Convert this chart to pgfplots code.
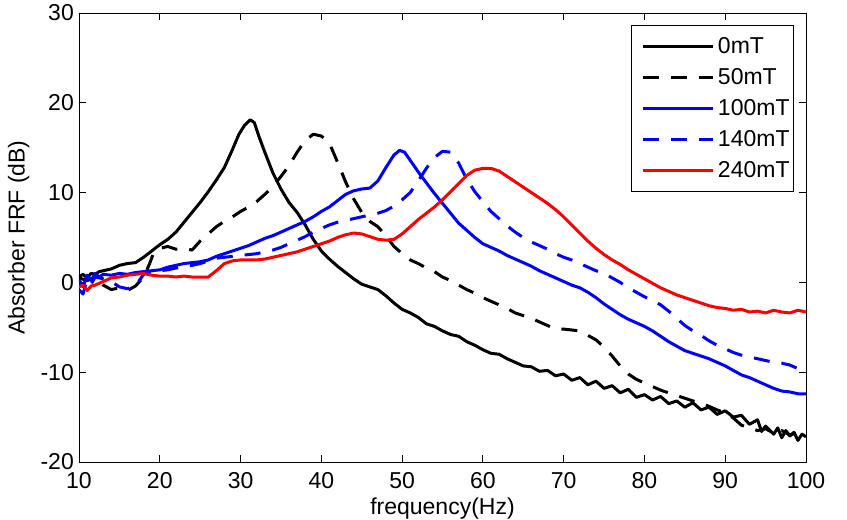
\documentclass[border=0pt]{standalone}
\usepackage{fontspec}
\setmainfont{Liberation Sans}
\usepackage{pgfplots}
\pgfplotsset{compat=1.18}
\definecolor{mblue}{RGB}{0,0,255}
\definecolor{mred}{RGB}{255,0,0}
\begin{document}
\begin{tikzpicture}[font=\fontsize{23bp}{27bp}\selectfont]
\begin{axis}[name=ax, scale only axis, width=727bp, height=449bp,
  xmin=10, xmax=100, ymin=-20, ymax=30,
  xtick={10,20,...,100}, ytick={-20,-10,...,30},
  tick align=inside, xtick pos=both, ytick pos=both,
  xticklabel pos=lower, yticklabel pos=left,
  major tick length=7bp,
  axis line style={line width=0.9bp},
  tick style={line width=0.9bp, black},
  /pgf/number format/assume math mode=true,
  tick label style={font=\fontsize{23bp}{27bp}\selectfont},
  xticklabel style={anchor=base, yshift=-26bp},
  yticklabel style={anchor=east, inner sep=5bp},
  xlabel={frequency(Hz)}, ylabel={Absorber FRF (dB)},
  label style={font=\fontsize{23bp}{27bp}\selectfont},
  xlabel style={at={(axis description cs:0.5,-0.118)}, anchor=base},
  ylabel style={at={(axis description cs:-0.083,0.5)}, anchor=center, rotate=0},
  legend style={at={(rel axis cs:0.9835,0.9733)}, anchor=north east, draw=black, line width=0.9bp, fill=white,
    inner xsep=1bp, inner ysep=9bp, font=\fontsize{23bp}{27bp}\selectfont, row sep=7.5bp,
    nodes={inner sep=3bp}},
  legend cell align=left,
  legend image code/.code={\path (-10bp,0bp); \draw[#1] (0bp,0bp) -- (70bp,0bp);},
]
\addplot[black, line width=3bp, line join=round] coordinates {
(10,0.6)(10.5,0.9)(11,0.5)(11.5,1.0)(12,0.9)(12.5,1.2)(13,1.3)(14,1.5)(15,1.9)(16,2.1)(17,2.2)(18,2.8)(19,3.5)(20,4.2)(21,4.8)(22,5.6)(23,6.7)(24,7.8)(25,8.9)(26,10.1)(27,11.4)(28,12.8)(29,14.8)(29.8,16.5)(30.5,17.5)(31.2,18.1)(31.7,17.8)(32.3,16.2)(33,14.5)(34,12.2)(35,10.4)(36,8.9)(37,7.8)(38,6.4)(39,4.8)(40,3.5)(41,2.6)(42,1.8)(43,1.1)(44,0.4)(45,-0.2)(46,-0.5)(47,-0.8)(48,-1.5)(49,-2.3)(50,-3.0)(51,-3.4)(52,-3.9)(53,-4.6)(54,-4.9)(55,-5.4)(56,-5.8)(57,-6.0)(58,-6.6)(59,-7.0)(60,-7.5)(61,-7.9)(62,-8.0)(63,-8.5)(64,-8.9)(65,-9.3)(66,-9.4)(67,-9.9)(68,-9.8)(69,-10.4)(70,-10.2)(71,-10.9)(72,-10.6)(73,-11.4)(74,-11.0)(75,-11.8)(76,-11.5)(77,-12.3)(78,-11.9)(79,-12.8)(80,-12.5)(81,-13.1)(82,-12.7)(83,-13.5)(84,-13.2)(85,-13.9)(86,-13.4)(87,-14.2)(88,-13.9)(89,-14.7)(90,-14.3)(91,-15.0)(92,-14.8)(93,-15.8)(94,-15.3)(94.5,-16.6)(95,-16.0)(96,-16.9)(96.5,-16.2)(97,-17.3)(97.5,-16.5)(98,-17.1)(98.5,-16.7)(99,-17.6)(99.5,-16.9)(100,-17.2)};
\addlegendentry{0mT}
\addplot[black, line width=3bp, line join=round, dash pattern=on 16bp off 12bp] coordinates {
(10,0.5)(11,0.2)(12,0.6)(13,-0.3)(14,-0.8)(15,-0.6)(16,-0.9)(17,-0.4)(18,0.6)(18.7,2.0)(19.2,3.2)(20,3.8)(21,4.0)(22,3.7)(23,3.8)(24,3.6)(25,4.6)(26,5.4)(27,6.2)(28,6.8)(29,7.3)(30,7.9)(31,8.4)(32,9.0)(33,9.8)(34,10.7)(35,11.8)(36,13.0)(37,14.5)(38,15.8)(39,16.5)(40,16.3)(41,15.5)(42,13.4)(43,11.2)(44,9.3)(45,7.8)(46,6.8)(47,6.2)(48,5.2)(49,4.0)(50,3.2)(51,2.5)(52,2.1)(53,1.6)(54,1.2)(55,0.6)(56,0.2)(57,-0.3)(58,-0.8)(59,-1.2)(60,-1.7)(61,-2.1)(62,-2.5)(63,-2.9)(64,-3.4)(65,-3.7)(66,-4.0)(67,-4.4)(68,-4.8)(69,-5.2)(70,-5.2)(71,-5.3)(72,-5.4)(73,-5.9)(74,-6.4)(75,-7.2)(76,-8.2)(77,-9.3)(78,-10.2)(79,-10.8)(80,-11.2)(81,-11.6)(82,-12.0)(83,-12.3)(84,-12.6)(85,-12.9)(86,-13.2)(87,-13.5)(88,-13.8)(89,-14.2)(90,-14.5)(91,-15.1)(92,-15.9)(93,-16.2)(94,-16.5)(95,-16.3)(96,-16.8)(97,-16.5)(98,-17.0)(99,-16.7)(100,-17.0)};
\addlegendentry{50mT}
\addplot[mblue, line width=3bp, line join=round] coordinates {
(10,0.3)(10.5,-0.5)(11,0.8)(11.5,0.2)(12,1.0)(12.5,0.6)(13,0.9)(14,0.8)(15,1.0)(16,0.9)(17,1.1)(18,1.2)(19,1.3)(20,1.4)(21,1.7)(22,1.9)(23,2.1)(24,2.2)(25,2.3)(26,2.5)(27,2.9)(28,3.2)(29,3.5)(30,3.8)(31,4.1)(32,4.5)(33,4.9)(34,5.2)(35,5.6)(36,6.0)(37,6.4)(38,6.8)(39,7.3)(40,7.9)(41,8.4)(42,9.1)(43,9.8)(44,10.2)(45,10.4)(46,10.5)(47,11.3)(48,12.8)(49,14.2)(49.7,14.7)(50.3,14.5)(51,13.6)(52,12.3)(53,11.1)(54,9.9)(55,8.8)(56,7.7)(57,6.6)(58,5.8)(59,5.0)(60,4.3)(61,3.9)(62,3.5)(63,3.0)(64,2.6)(65,2.2)(66,1.8)(67,1.3)(68,0.9)(69,0.5)(70,0.1)(71,-0.3)(72,-0.6)(73,-1.1)(74,-1.7)(75,-2.4)(76,-3.0)(77,-3.6)(78,-4.1)(79,-4.5)(80,-4.9)(81,-5.4)(82,-6.0)(83,-6.6)(84,-7.1)(85,-7.6)(86,-7.9)(87,-8.2)(88,-8.5)(89,-8.9)(90,-9.3)(91,-9.8)(92,-10.3)(93,-10.6)(94,-11.0)(95,-11.4)(96,-11.8)(97,-12.1)(98,-12.2)(99,-12.4)(100,-12.4)};
\addlegendentry{100mT}
\addplot[mblue, line width=3bp, line join=round, dash pattern=on 16bp off 12bp] coordinates {
(10,-0.8)(10.5,-1.3)(11,0.3)(11.5,-0.2)(12,0.6)(13,0.4)(14,0.1)(15,-0.5)(16,-0.7)(17,-0.4)(18,0.9)(19,1.2)(20,1.3)(21,1.4)(22,1.6)(23,1.8)(24,1.9)(25,2.1)(26,2.4)(27,2.7)(28,2.8)(29,2.9)(30,3.0)(31,3.1)(32,3.2)(33,3.4)(34,3.6)(35,3.9)(36,4.3)(37,4.7)(38,5.1)(39,5.6)(40,6.0)(41,6.4)(42,6.7)(43,6.9)(44,7.1)(45,7.3)(46,7.5)(47,7.7)(48,8.0)(49,8.5)(50,9.2)(51,10.0)(52,11.3)(53,12.7)(54,13.9)(55,14.6)(56,14.5)(57,13.3)(58,11.5)(59,10.1)(60,9.0)(61,7.9)(62,7.1)(63,6.3)(64,5.6)(65,5.0)(66,4.5)(67,4.1)(68,3.7)(69,3.2)(70,2.8)(71,2.5)(72,2.1)(73,1.7)(74,1.3)(75,1.0)(76,0.5)(77,0.0)(78,-0.6)(79,-1.1)(80,-1.6)(81,-2.0)(82,-2.5)(83,-3.2)(84,-4.0)(85,-4.8)(86,-5.4)(87,-5.9)(88,-6.5)(89,-7.0)(90,-7.4)(91,-7.8)(92,-8.1)(93,-8.3)(94,-8.5)(95,-8.7)(96,-8.9)(97,-9.0)(98,-9.2)(99,-9.6)(100,-9.8)};
\addlegendentry{140mT}
\addplot[mred, line width=3bp, line join=round] coordinates {
(10,-0.5)(10.5,-0.3)(11,-0.9)(11.5,-0.4)(12,-0.3)(13,0.1)(14,0.5)(15,0.6)(16,0.8)(17,0.9)(18,1.0)(19,0.8)(20,0.7)(21,0.7)(22,0.6)(23,0.7)(24,0.6)(25,0.6)(26,0.6)(27,1.3)(28,2.1)(29,2.4)(30,2.5)(31,2.5)(32,2.5)(33,2.6)(34,2.8)(35,3.0)(36,3.2)(37,3.4)(38,3.7)(39,4.0)(40,4.3)(41,4.6)(42,5.0)(43,5.3)(44,5.5)(45,5.4)(46,5.1)(47,4.8)(48,4.7)(49,4.8)(50,5.4)(51,6.2)(52,7.0)(53,7.7)(54,8.4)(55,9.2)(56,10.1)(57,11.0)(58,11.9)(59,12.5)(60,12.7)(61,12.7)(62,12.4)(63,11.8)(64,11.2)(65,10.6)(66,10.0)(67,9.4)(68,8.8)(69,8.1)(70,7.3)(71,6.4)(72,5.5)(73,4.6)(74,3.8)(75,3.1)(76,2.5)(77,2.0)(78,1.4)(79,0.9)(80,0.4)(81,-0.1)(82,-0.6)(83,-1.0)(84,-1.4)(85,-1.7)(86,-2.0)(87,-2.3)(88,-2.6)(89,-2.8)(90,-2.9)(91,-3.1)(92,-3.0)(93,-3.3)(94,-3.2)(95,-3.4)(96,-3.1)(97,-3.3)(98,-3.4)(99,-3.1)(100,-3.3)};
\addlegendentry{240mT}
\end{axis}
\pgfresetboundingbox
\path ([shift={(-79bp,-58bp)}]ax.south west) rectangle ([shift={(41bp,13bp)}]ax.north east);
\end{tikzpicture}
\end{document}
